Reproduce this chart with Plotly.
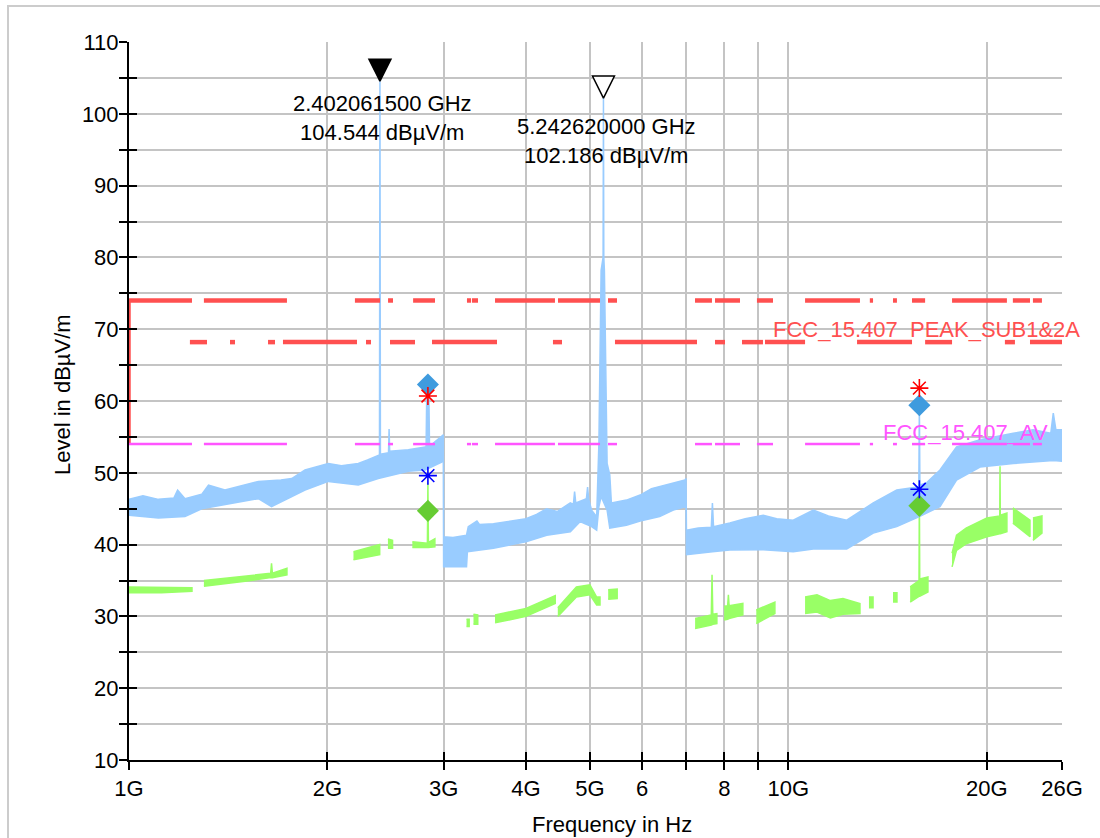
import math
import plotly.graph_objects as go

# ---------------- data (frequency in GHz, level in dBµV/m) ----------------
# Peak (max-hold) trace: upper and lower envelope of the noisy band
pk_hi_f = [1.0, 1.05, 1.108, 1.17, 1.185, 1.216, 1.289, 1.32, 1.398, 1.5, 1.571, 1.7, 1.765,
           1.849, 2.006, 2.1, 2.227, 2.30, 2.388, 2.398, 2.402061500, 2.406, 2.475, 2.48, 2.485,
           2.652, 2.811, 2.822, 2.828, 2.85, 2.856, 2.98, 2.997, 3.0, 3.1, 3.25, 3.27, 3.37, 3.4,
           3.57, 3.8, 4.0, 4.15, 4.30, 4.46, 4.67, 4.72, 4.74, 4.76, 4.83, 4.94, 4.96, 4.98, 5.03,
           5.12, 5.16, 5.20, 5.236, 5.242620000, 5.249, 5.26, 5.28, 5.31, 5.36, 5.39, 5.68, 5.96,
           6.2, 6.38, 6.69, 6.97, 6.995, 7.005, 7.3, 7.64, 7.67, 7.70, 8.15, 8.6, 9.16, 9.6, 10.17,
           10.91, 11.5, 12.26, 13.45, 14.60, 15.6, 15.77, 15.8, 15.83, 16.2, 16.98, 17.99, 19.53,
           21.93, 23.5, 25.0, 25.22, 25.45, 26.0]
pk_hi = [46.3, 46.8, 46.3, 46.5, 47.6, 46.4, 47.0, 48.3, 47.6, 48.3, 48.8, 49.0, 49.2,
         50.4, 51.3, 51.0, 51.3, 51.8, 52.5, 52.5, 104.544, 52.6, 52.8, 56.1, 53.0,
         53.2, 53.6, 53.5, 60.5, 60.5, 53.7, 55.0, 55.3, 41.1, 41.0, 41.3, 42.5, 43.3, 42.8,
         42.9, 43.3, 43.6, 44.2, 45.0, 44.6, 45.8, 45.6, 47.4, 45.8, 46.0, 46.4, 48.0, 46.3, 44.8,
         43.9, 54.1, 78.2, 80.0, 102.186, 80.0, 78.2, 69.4, 51.3, 49.7, 45.8, 46.2, 46.9,
         47.8, 48.1, 48.6, 49.0, 49.2, 42.0, 42.3, 42.4, 45.8, 42.5, 43.0, 43.6, 44.1, 43.6, 43.4,
         44.8, 44.0, 43.4, 45.8, 47.6, 48.0, 48.1, 59.4, 48.3, 48.6, 50.4, 53.6, 54.6,
         55.5, 56.0, 55.5, 58.3, 56.0, 56.0]
pk_lo_f = [1.0, 1.108, 1.216, 1.289, 1.398, 1.571, 1.645, 1.765, 1.849, 2.006, 2.227, 2.388,
           2.652, 2.811, 2.98, 2.997, 3.0, 3.25, 3.26, 3.57, 4.0, 4.30, 4.67, 4.83, 5.03, 5.12,
           5.16, 5.20, 5.31, 5.36, 5.68, 5.96, 6.38, 6.69, 6.995, 7.005, 7.67, 8.15, 9.16, 10.17,
           10.91, 12.26, 13.45, 14.60, 15.8, 16.98, 17.99, 19.53, 21.93, 25.22, 26.0]
pk_lo = [44.1, 43.7, 43.9, 45.0, 45.6, 46.4, 45.3, 46.7, 47.6, 48.8, 48.3, 49.2,
         50.2, 50.4, 51.5, 51.8, 36.9, 36.9, 39.0, 39.5, 40.4, 41.3, 41.8, 43.2, 42.5, 42.0,
         45.3, 46.7, 44.8, 42.3, 42.7, 43.3, 43.9, 44.8, 45.3, 38.6, 39.0, 39.25, 39.3, 39.0,
         39.4, 39.4, 41.6, 42.5, 43.9, 45.3, 49.0, 50.8, 51.3, 51.7, 51.6]

# Average trace: segments (None = gap), upper and lower edge of the band
avg_f = [1.0, 1.12, 1.246, None,
         1.299, 1.5, 1.64, 1.645, 1.65, 1.736, None,
         2.19, 2.40, None,
         2.47, 2.51, None,
         2.69, 2.835, 2.84, 2.845, 2.91, None,
         3.25, 3.28, None,
         3.33, 3.38, None,
         3.59, 4.0, 4.43, None,
         4.47, 4.77, 5.0, 5.12, 5.18, None,
         5.33, 5.50, None,
         7.22, 7.64, 7.66, 7.68, 7.79, None,
         7.99, 8.09, 8.11, 8.13, 8.53, None,
         8.94, 9.54, None,
         10.6, 11.05, 11.58, 12.1, 12.84, None,
         13.25, 13.44, None,
         14.41, 14.61, None,
         15.3, 15.78, 15.8, 15.82, 16.28, None,
         17.71, 17.99, 18.6, 20.0, 20.92, 20.94, 20.96, 21.45, None,
         21.9, 23.25, None,
         23.49, 24.24]
avg_hi = [34.1, 34.0, 34.0, None,
          35.0, 35.6, 36.0, 37.4, 36.0, 36.7, None,
          39.0, 40.0, None,
          40.8, 40.6, None,
          40.4, 40.2, 48.5, 40.3, 40.8, None,
          29.6, 29.6, None,
          30.3, 30.2, None,
          30.2, 31.1, 32.9, None,
          31.2, 34.1, 34.4, 32.7, 32.7, None,
          33.7, 33.8, None,
          29.7, 30.2, 35.8, 30.3, 30.4, None,
          31.4, 31.5, 33.0, 31.5, 31.8, None,
          30.9, 32.0, None,
          32.7, 33.0, 32.2, 32.5, 31.8, None,
          32.7, 32.7, None,
          33.3, 33.3, None,
          34.1, 35.0, 47.5, 35.2, 35.5, None,
          38.8, 41.3, 42.3, 43.7, 44.0, 50.9, 44.1, 44.4, None,
          45.1, 43.4, None,
          43.7, 44.0]
avg_lo = [33.3, 33.3, 33.5, None,
          34.2, 34.9, 35.4, 35.4, 35.4, 35.8, None,
          37.9, 38.6, None,
          39.5, 39.5, None,
          39.6, 39.6, 39.6, 39.6, 39.7, None,
          28.6, 28.6, None,
          28.9, 28.9, None,
          29.1, 30.0, 31.8, None,
          30.0, 32.7, 33.0, 31.6, 31.6, None,
          32.4, 32.5, None,
          28.3, 28.8, 28.8, 28.9, 29.0, None,
          29.5, 29.6, 29.6, 29.7, 30.2, None,
          29.0, 30.4, None,
          30.4, 30.6, 29.8, 30.3, 30.4, None,
          31.2, 31.2, None,
          32.0, 32.0, None,
          32.0, 32.8, 32.8, 32.8, 33.4, None,
          36.9, 39.2, 40.1, 41.1, 41.5, 41.5, 41.5, 41.8, None,
          43.0, 41.1, None,
          40.6, 41.6]

# Limit lines (drawn only over the listed frequency spans)
peak_limit = 74.0
edge_limit = 68.2
av_limit = 54.0
lim_seg_start = [1.0, 1.299, 2.201, 2.471, 2.697, 3.255, 3.313, 3.590, 4.473, 5.326, 7.218,
                 7.740, 8.960, 10.60, 13.29, 14.41, 15.40, 17.71, 21.90, 23.49]
lim_seg_end = [1.246, 1.736, 2.403, 2.514, 2.911, 3.302, 3.383, 4.426, 5.180, 5.497, 7.658,
               8.446, 9.477, 12.84, 13.44, 14.61, 16.12, 21.45, 23.25, 24.24]
edge_seg_start = [1.237, 1.423, 1.625, 1.712, 2.288, 2.488, 2.881, 4.395, 5.458, 7.740, 8.505,
                  9.216, 12.71, 16.12, 21.30, 23.25]
edge_seg_end = [1.313, 1.448, 1.665, 2.217, 2.328, 2.715, 3.615, 4.536, 7.268, 8.015, 9.151,
                10.60, 15.40, 17.71, 22.06, 26.0]
peak_limit_name = "FCC_15.407_PEAK_SUB1&2A"
av_limit_name = "FCC_15.407_AV"

# Peak markers
mk_freq = [2.402061500, 5.242620000]
mk_level = [104.544, 102.186]
mk_fill = ["black", "white"]

# Final measurement points
fin_freq = [2.84, 15.8]
pk_final = [62.3, 59.4]
pk_prescan = [60.7, 61.8]
av_prescan = [49.6, 47.7]
av_final = [44.7, 45.4]

# Axes
x_tick_vals = [1, 2, 3, 4, 5, 6, 7, 8, 9, 10, 20, 26]
x_tick_text = ["1G", "2G", "3G", "4G", "5G", "6", "", "8", "", "10G", "20G", "26G"]
y_tick_vals = list(range(10, 111, 10))
y_minor_vals = list(range(15, 106, 10))
x_title = "Frequency in Hz"
y_title = "Level in dBµV/m"

# ---------------- styles ----------------
FONT = "Liberation Sans, Arial, sans-serif"
BLUE = "#99CCFF"
GREEN = "#99FF66"
RED = "#FF5050"
MAGENTA = "#FF55FF"
GRID = "#C4C4C4"


def split(seq):
    segs, cur = [], []
    for v in seq:
        if v is None:
            segs.append(cur)
            cur = []
        else:
            cur.append(v)
    if cur:
        segs.append(cur)
    return segs


# polygons for the bands
pk_x = list(pk_hi_f) + list(pk_lo_f)[::-1]
pk_y = list(pk_hi) + list(pk_lo)[::-1]
av_x, av_y = [], []
for fs, hs, ls in zip(split(avg_f), split(avg_hi), split(avg_lo)):
    av_x += fs + fs[::-1] + [None]
    av_y += hs + ls[::-1] + [None]


def seg_line(starts, ends, level):
    xs, ys = [], []
    for s, e in zip(starts, ends):
        xs += [s, e, None]
        ys += [level, level, None]
    return xs, ys


fig = go.Figure()
fig.add_trace(go.Scatter(x=av_x, y=av_y, mode="lines", fill="toself", fillcolor=GREEN,
                         line=dict(color=GREEN, width=1.5), hoverinfo="skip"))
fig.add_trace(go.Scatter(x=pk_x, y=pk_y, mode="lines", fill="toself", fillcolor=BLUE,
                         line=dict(color=BLUE, width=1.5), hoverinfo="skip"))

ov = dict(xaxis="x2", yaxis="y2", cliponaxis=False, hoverinfo="skip")
# vertical part of the limit at the start frequency
fig.add_trace(go.Scatter(x=[lim_seg_start[0], lim_seg_start[0]], y=[av_limit, peak_limit],
                         mode="lines", line=dict(color=RED, width=3.5), **ov))
lx, ly = seg_line(lim_seg_start, lim_seg_end, peak_limit)
fig.add_trace(go.Scatter(x=lx, y=ly, mode="lines", line=dict(color=RED, width=4.5), **ov))
ex, ey = seg_line(edge_seg_start, edge_seg_end, edge_limit)
fig.add_trace(go.Scatter(x=ex, y=ey, mode="lines", line=dict(color=RED, width=4.5), **ov))
ax_, ay_ = seg_line(lim_seg_start, lim_seg_end, av_limit)
fig.add_trace(go.Scatter(x=ax_, y=ay_, mode="lines", line=dict(color=MAGENTA, width=2.5), **ov))

# final measurement markers
fig.add_trace(go.Scatter(x=fin_freq, y=pk_final, mode="markers",
                         marker=dict(symbol="diamond", size=17, color="#3F9BDE"), **ov))
fig.add_trace(go.Scatter(x=fin_freq, y=av_final, mode="markers",
                         marker=dict(symbol="diamond", size=17, color="#66CC33"), **ov))
fig.add_trace(go.Scatter(x=fin_freq, y=pk_prescan, mode="markers",
                         marker=dict(symbol="asterisk-open", size=15, color="#FF0000",
                                     line=dict(color="#FF0000", width=1.6)), **ov))
fig.add_trace(go.Scatter(x=fin_freq, y=av_prescan, mode="markers",
                         marker=dict(symbol="asterisk-open", size=15, color="#0000FF",
                                     line=dict(color="#0000FF", width=1.6)), **ov))
# peak markers
fig.add_trace(go.Scatter(x=mk_freq, y=mk_level, mode="markers",
                         marker=dict(symbol="arrow-down", size=22, color=mk_fill,
                                     line=dict(color="black", width=1.5)), **ov))

annotations = []
text_shift = [-37, -43]
for f, lvl, ys in zip(mk_freq, mk_level, text_shift):
    annotations.append(dict(x=math.log10(f), y=lvl, xref="x", yref="y",
                            text=f"{f:.9f} GHz<br>{lvl:.3f} dBµV/m", showarrow=False,
                            xanchor="center", yanchor="middle", xshift=3, yshift=ys,
                            font=dict(family=FONT, size=22, color="black")))
annotations.append(dict(x=math.log10(26), y=edge_limit, xref="x", yref="y", text=peak_limit_name,
                        showarrow=False, xanchor="right", yanchor="middle", xshift=20, yshift=13,
                        font=dict(family=FONT, size=22, color=RED)))
annotations.append(dict(x=math.log10(26), y=av_limit, xref="x", yref="y", text=av_limit_name,
                        showarrow=False, xanchor="right", yanchor="middle", xshift=-12, yshift=12,
                        font=dict(family=FONT, size=22, color=MAGENTA)))
annotations.append(dict(x=(612 - 129) / 933, y=(760 - 824) / 718, xref="paper", yref="paper",
                        text=x_title, showarrow=False, xanchor="center", yanchor="middle",
                        font=dict(family=FONT, size=22, color="black")))
annotations.append(dict(x=(62 - 129) / 933, y=(760 - 395) / 718, xref="paper", yref="paper",
                        text=y_title, showarrow=False, textangle=-90, xanchor="center",
                        yanchor="middle", font=dict(family=FONT, size=22, color="black")))

xr = [0, math.log10(26)]
yr = [10, 110]
tick_style = dict(tickwidth=2, tickcolor="black", ticklen=8)
TICKFONT = dict(family=FONT, size=22, color="black")

fig.update_layout(
    width=1100, height=838,
    margin=dict(l=129, r=38, t=42, b=78),
    paper_bgcolor="white", plot_bgcolor="white",
    showlegend=False,
    font=dict(family=FONT, size=22, color="black"),
    xaxis=dict(type="log", range=xr, tickvals=x_tick_vals, ticktext=x_tick_text,
               ticks="outside", **tick_style, showline=True, linecolor="black", linewidth=2,
               showgrid=True, gridcolor=GRID, gridwidth=2, zeroline=False, tickfont=TICKFONT,
               ticklabelstandoff=0),
    yaxis=dict(range=yr, tickvals=y_tick_vals, ticks="outside", **tick_style,
               showline=True, linecolor="black", linewidth=2, showgrid=True, gridcolor=GRID,
               gridwidth=2, zeroline=False, tickfont=TICKFONT, ticklabelstandoff=-4,
               minor=dict(tickvals=y_minor_vals, ticks="outside", **tick_style,
                          showgrid=True, gridcolor=GRID, gridwidth=2)),
    xaxis2=dict(type="log", range=xr, overlaying="x", anchor="y2", side="bottom",
                tickvals=x_tick_vals, ticks="inside", **tick_style, showticklabels=False,
                showgrid=False, showline=False, zeroline=False),
    yaxis2=dict(range=yr, overlaying="y", anchor="x2", side="left", tickvals=y_tick_vals,
                ticks="inside", **tick_style, showticklabels=False, showgrid=False,
                showline=False, zeroline=False,
                minor=dict(tickvals=y_minor_vals, ticks="inside", **tick_style, showgrid=False)),
    annotations=annotations,
    shapes=[dict(type="rect", xref="paper", yref="paper",
                 x0=(8 - 129) / 933, x1=1.2, y0=-0.2, y1=(760 - 6) / 718,
                 line=dict(color="#CCCCCC", width=2), fillcolor="rgba(0,0,0,0)", layer="below")],
)

# the page is exactly the figure size: remove the default body margin
fig.write_html("out.html", config={"displayModeBar": False},
               post_script="document.body.style.margin='0px';document.body.style.overflow='hidden';")
